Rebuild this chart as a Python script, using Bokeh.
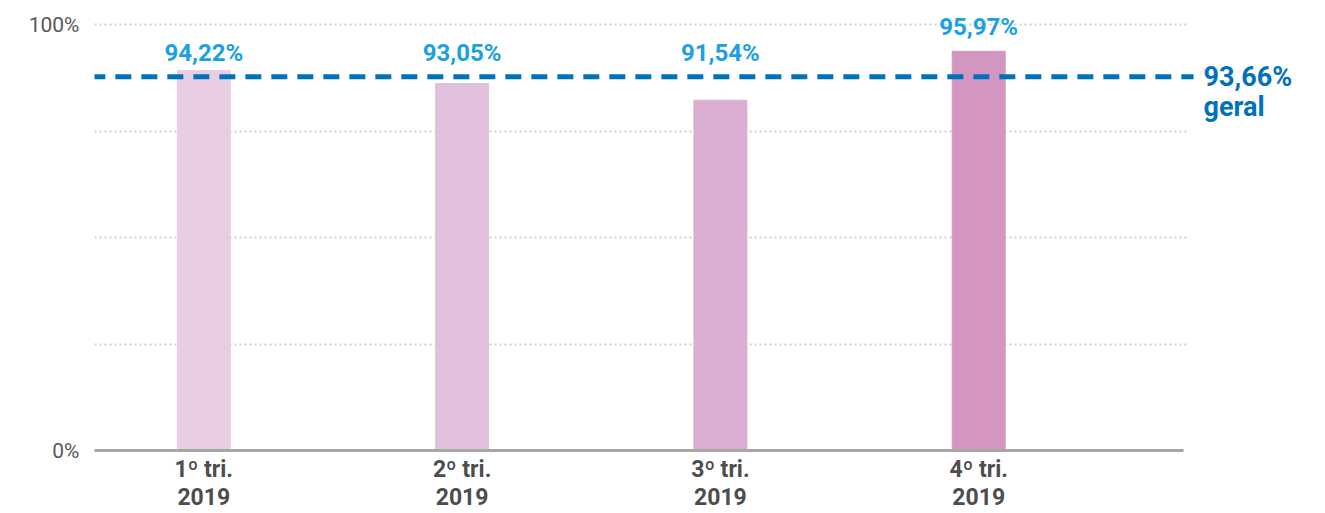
from bokeh.plotting import figure
from bokeh.models import Range1d, FixedTicker, Label, LabelSet, ColumnDataSource, Grid
from bokeh.embed import file_html
from bokeh.resources import INLINE
from bokeh.core.properties import value

# ---- data ----
categories = ["1º tri.\n2019", "2º tri.\n2019", "3º tri.\n2019", "4º tri.\n2019"]
values = [94.22, 93.05, 91.54, 95.97]
value_labels = ["94,22%", "93,05%", "91,54%", "95,97%"]
overall = 93.66
overall_label = "93,66%"
overall_caption = "geral"
bar_colors = ["#e8cde4", "#e1c1dc", "#dbaed1", "#d296c1"]
y_tick_values = [0, 25, 50, 75, 100]
y_tick_labels = {0: "0%", 25: "", 50: "", 75: "", 100: "100%"}

# value scale used for the bars (as drawn in the original graphic)
v_start, v_end = 59.8, 100.212

FONT = "Roboto"

xs = list(range(len(categories)))
label_anchor = [overall if v < overall + 1 else v for v in values]

src = ColumnDataSource(dict(x=xs, top=values, color=bar_colors,
                            lbl=value_labels, ly=label_anchor))

x_rng = Range1d(-0.4232, 4.3233)
axis_end = xs[-1] + 0.793      # end of the baseline
grid_end = xs[-1] + 0.812      # end of the dotted grid lines
line_end = xs[-1] + 0.832      # end of the dashed average line

p = figure(width=1325, height=513, output_backend="svg", toolbar_location=None,
           x_range=x_rng, y_range=Range1d(0, 104.695),
           min_border_left=94, min_border_right=5, min_border_top=4,
           min_border_bottom=63)
p.extra_y_ranges = {"v": Range1d(v_start, v_end)}
p.outline_line_color = None
p.background_fill_color = "white"

# grid (dotted), limited in x
p.xgrid.grid_line_color = None
if "cross_bounds" in Grid.properties():
    p.ygrid.ticker = FixedTicker(ticks=y_tick_values)
    p.ygrid.cross_bounds = (x_rng.start, grid_end)
    p.ygrid.grid_line_color = "#cfcfcf"
    p.ygrid.grid_line_width = 2
    p.ygrid.grid_line_dash = "2 3"
else:
    p.ygrid.grid_line_color = None
    p.segment(x0=[x_rng.start] * len(y_tick_values), x1=[grid_end] * len(y_tick_values),
              y0=y_tick_values, y1=y_tick_values, line_color="#cfcfcf",
              line_width=2, line_dash="2 3", level="underlay")

p.vbar(x="x", top="top", bottom=v_start, width=0.205, color="color",
       source=src, y_range_name="v")

# dashed overall line
p.segment(x0=[x_rng.start - 0.02], x1=[line_end], y0=[overall], y1=[overall],
          y_range_name="v", line_color="#0071bc", line_width=5, line_dash="16 10")

labels = LabelSet(x="x", y="ly", text="lbl", source=src, y_range_name="v",
                  text_align="center", text_baseline="middle", y_offset=24,
                  text_font=value(FONT), text_font_style="bold",
                  text_font_size="24px", text_color="#1ba0e0")
p.add_layout(labels)

p.add_layout(Label(x=line_end, x_offset=10, y=overall, y_range_name="v",
                   text=overall_label, text_baseline="middle",
                   text_font=FONT, text_font_style="bold",
                   text_font_size="27px", text_color="#0071bc"))
p.add_layout(Label(x=line_end, x_offset=10, y=overall, y_range_name="v",
                   y_offset=-30, text=overall_caption, text_baseline="middle",
                   text_font=FONT, text_font_style="bold",
                   text_font_size="27px", text_color="#0071bc"))

# x axis
p.xaxis.ticker = FixedTicker(ticks=xs)
p.xaxis.major_label_overrides = {i: c for i, c in zip(xs, categories)}
p.xaxis.bounds = (x_rng.start, axis_end)
p.xaxis.major_tick_line_color = None
p.xaxis.major_tick_out = 0
p.xaxis.minor_tick_line_color = None
p.xaxis.axis_line_color = "#a6a6a6"
p.xaxis.axis_line_width = 3
p.xaxis.major_label_standoff = 5
p.xaxis.major_label_text_font = FONT
p.xaxis.major_label_text_font_style = "bold"
p.xaxis.major_label_text_font_size = "23px"
p.xaxis.major_label_text_color = "#4d4d4d"
p.xaxis.major_label_text_line_height = 1.05

# y axis
p.yaxis.ticker = FixedTicker(ticks=y_tick_values)
p.yaxis.major_label_overrides = y_tick_labels
p.yaxis.major_tick_line_color = None
p.yaxis.major_tick_out = 0
p.yaxis.minor_tick_line_color = None
p.yaxis.axis_line_color = None
p.yaxis.major_label_standoff = 15
p.yaxis.major_label_text_font = FONT
p.yaxis.major_label_text_font_size = "21px"
p.yaxis.major_label_text_color = "#595959"

open("out.html", "w").write(file_html(p, INLINE))
